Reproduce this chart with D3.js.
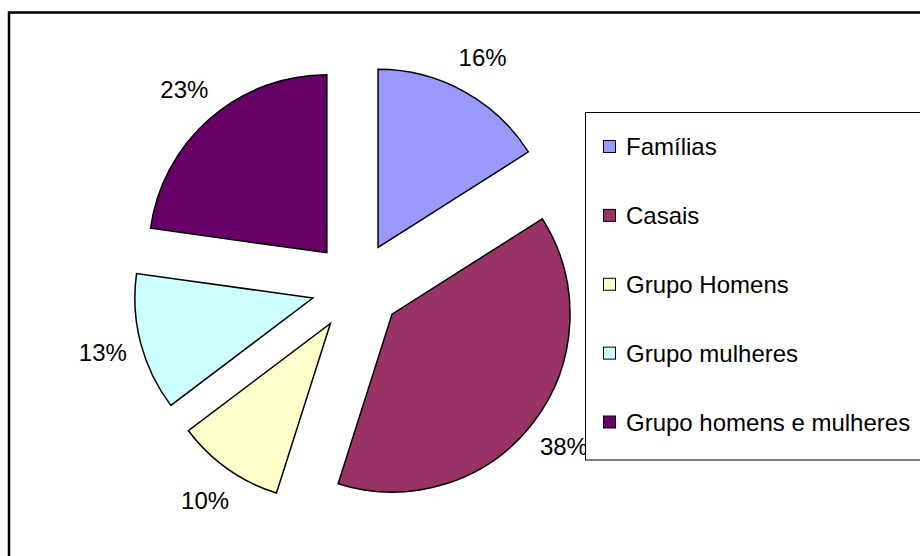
<!DOCTYPE html>
<html>
<head>
<meta charset="utf-8">
<script src="https://cdn.jsdelivr.net/npm/d3@7"></script>
<style>
  html, body { margin: 0; padding: 0; background: #fff; }
  svg { display: block; }
  text { font-family: "Liberation Sans", Arial, sans-serif; }
</style>
</head>
<body>
<svg id="chart" width="920" height="556"></svg>
<script>
const categories = ["Famílias", "Casais", "Grupo Homens", "Grupo mulheres", "Grupo homens e mulheres"];
// slice shares (labels are the rounded percentages shown)
const values = [16, 38.9, 9.8, 12.5, 22.8];
const labels = ["16%", "38%", "10%", "13%", "23%"];
const colors = ["#9999FF", "#993366", "#FFFFCC", "#CCFFFF", "#660066"];

const W = 920, H = 556;
const cx = 356.4, cy = 286.7;
const radius = 178, explode = 45, labelRadius = 262;

const svg = d3.select("#chart");

// outer chart frame
svg.append("rect")
  .attr("x", 9).attr("y", 12.5)
  .attr("width", W + 20).attr("height", H + 20)
  .attr("fill", "#fff").attr("stroke", "#000").attr("stroke-width", 2.5);

const pie = d3.pie().sort(null).value(d => d).startAngle(0).endAngle(2 * Math.PI);
const arcs = pie(values);
const arc = d3.arc().innerRadius(0).outerRadius(radius);
const mid = d => (d.startAngle + d.endAngle) / 2;

const g = svg.append("g").attr("transform", `translate(${cx},${cy})`);

g.selectAll("path.slice")
  .data(arcs)
  .join("path")
  .attr("class", "slice")
  .attr("d", arc)
  .attr("fill", (d, i) => colors[i])
  .attr("stroke", "#000")
  .attr("stroke-width", 1.5)
  .attr("stroke-linejoin", "miter")
  .attr("transform", d => `translate(${explode * Math.sin(mid(d))},${-explode * Math.cos(mid(d))})`);

g.selectAll("text.lbl")
  .data(arcs)
  .join("text")
  .attr("class", "lbl")
  .attr("x", d => labelRadius * Math.sin(mid(d)))
  .attr("y", d => -labelRadius * Math.cos(mid(d)) + 8.5)
  .attr("text-anchor", "middle")
  .attr("font-size", 24)
  .attr("fill", "#000")
  .text((d, i) => labels[i]);

// legend
const legX = 585.5, legY = 112.5, legH = 347.5;
svg.append("rect")
  .attr("x", legX).attr("y", legY)
  .attr("width", W).attr("height", legH)
  .attr("fill", "#fff").attr("stroke", "#000").attr("stroke-width", 1);

const ly = d3.scalePoint().domain(categories).range([146.5, 422]);
const items = svg.append("g").selectAll("g.item").data(categories).join("g")
  .attr("class", "item")
  .attr("transform", d => `translate(0,${ly(d)})`);
items.append("rect")
  .attr("x", 603.5).attr("y", -6)
  .attr("width", 12).attr("height", 12)
  .attr("fill", (d, i) => colors[i])
  .attr("stroke", "#000").attr("stroke-width", 1);
items.append("text")
  .attr("x", 626)
  .attr("y", 8.5)
  .attr("font-size", 24)
  .attr("fill", "#000")
  .text(d => d);
</script>
</body>
</html>
